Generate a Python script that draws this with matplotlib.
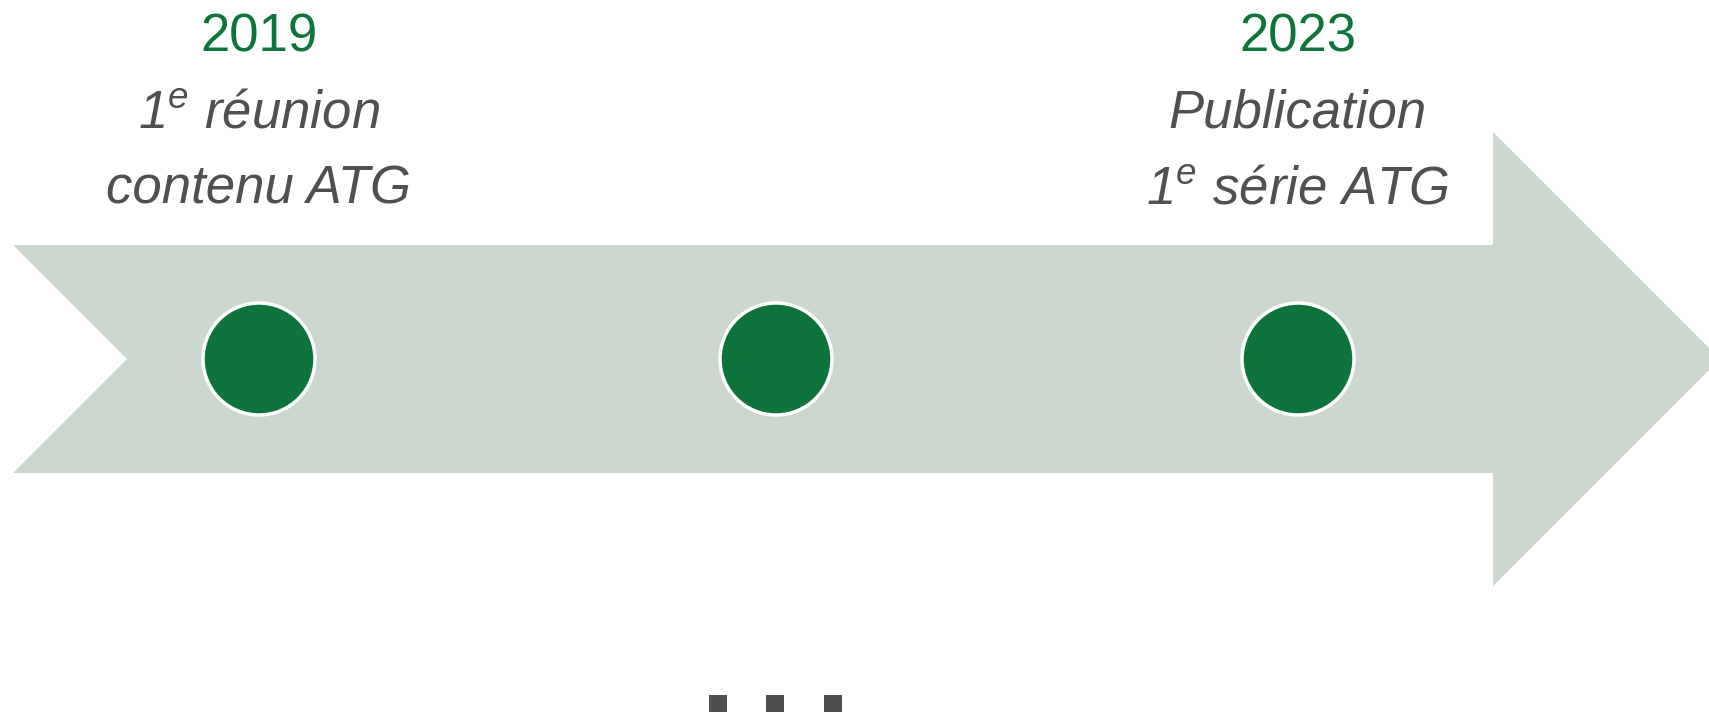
import matplotlib.pyplot as plt
from matplotlib.patches import Polygon, Circle, Rectangle

# milestones along the timeline
years = ["2019", "", "2023"]
line1 = [r"1$^{\mathrm{e}}$ réunion", "", "Publication"]
line2 = ["contenu ATG", "", r"1$^{\mathrm{e}}$ série ATG"]
milestone_x = [259, 776, 1298]
dots_x = [718, 775, 833]

plt.rcParams['mathtext.fontset'] = 'custom'
plt.rcParams['mathtext.rm'] = 'Liberation Sans:style=italic'
plt.rcParams['mathtext.it'] = 'Liberation Sans:style=italic'

band_col = '#ccd7cf'
green = '#0e743c'
grey = '#505050'

fig = plt.figure(figsize=(17.09, 7.13), dpi=100)
ax = fig.add_axes([0, 0, 1, 1])
ax.set_xlim(0, 1709)
ax.set_ylim(713, 0)
ax.axis('off')

# arrow-shaped band with notch on the left
arrow = [(13, 245), (1493, 245), (1493, 132), (1720, 359), (1493, 586),
         (1493, 473), (13, 473), (127, 359)]
ax.add_patch(Polygon(arrow, closed=True, facecolor=band_col, edgecolor='none'))

for x, yr, l1, l2 in zip(milestone_x, years, line1, line2):
    ax.add_patch(Circle((x, 359), 56, facecolor=green, edgecolor='white', linewidth=2.5))
    if yr:
        ax.text(x, 52, yr, ha='center', va='baseline', fontsize=38,
                family='Liberation Sans', color=green)
        ax.text(x, 128, l1, ha='center', va='baseline', fontsize=38,
                family='Liberation Sans', style='italic', color=grey)
        ax.text(x, 203, l2, ha='center', va='baseline', fontsize=38,
                family='Liberation Sans', style='italic', color=grey)

# "..." squares below the band
for x in dots_x:
    ax.add_patch(Rectangle((x - 9, 695), 18, 17, facecolor='#4f4f4f', edgecolor='none'))

fig.savefig('out.png', dpi=100)
